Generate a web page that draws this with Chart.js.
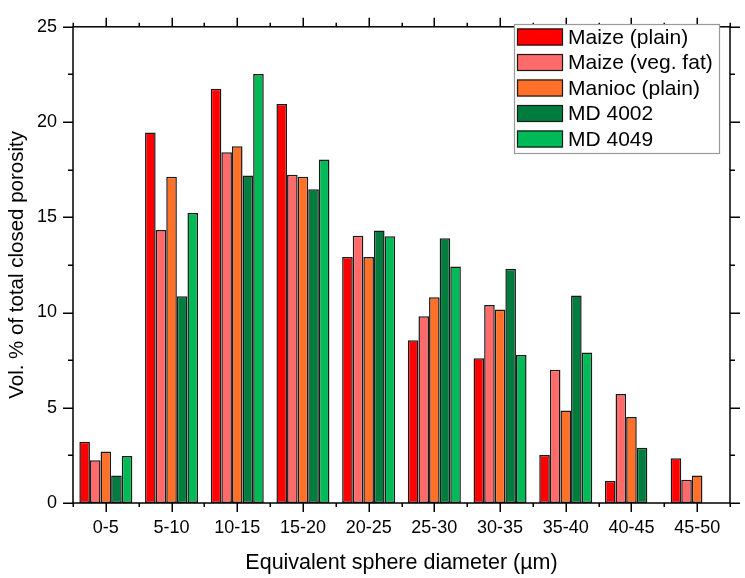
<!DOCTYPE html>
<html>
<head>
<meta charset="utf-8">
<script src="https://cdn.jsdelivr.net/npm/chart.js@4.4.1/dist/chart.umd.min.js"></script>
<style>
  html, body { margin: 0; padding: 0; background: #fff; }
  #wrap { width: 745px; height: 578px; }
</style>
</head>
<body>
<div id="wrap"><canvas id="poreChart" width="745" height="578"></canvas></div>
<script>
// size classes (µm)
let categories = ['0-5','5-10','10-15','15-20','20-25','25-30','30-35','35-40','40-45','45-50'];

let maizePlain  = [3.22, 19.45, 21.75, 20.95, 12.92, 8.55, 7.60, 2.52, 1.15, 2.35];
let maizeVegFat = [2.24, 14.33, 18.42, 17.23, 14.03, 9.80, 10.40, 7.00, 5.72, 1.22];
let manioc      = [2.70, 17.13, 18.73, 17.13, 12.92, 10.80, 10.16, 4.86, 4.52, 1.45];
let md4002      = [1.45, 10.85, 17.19, 16.47, 14.30, 13.90, 12.30, 10.90, 2.90, null];
let md4049      = [2.47, 15.22, 22.52, 18.03, 14.00, 12.42, 7.77, 7.90, null, null];

let yTicks = [0, 5, 10, 15, 20, 25];

const FONT = '"Liberation Sans", Arial, sans-serif';

// box frame with outward ticks on all four sides
const framePlugin = {
    id: 'frame',
    afterDraw(chart) {
        const ctx = chart.ctx;
        const a = chart.chartArea;
        const x = chart.scales.x;
        const y = chart.scales.y;
        ctx.save();
        ctx.strokeStyle = '#000';
        ctx.lineWidth = 1.5;
        ctx.strokeRect(a.left, a.top, a.right - a.left, a.bottom - a.top);
        ctx.beginPath();
        for (let v = 0; v <= 25.001; v += 2.5) {
            const py = Math.round(y.getPixelForValue(v)) + 0.25;
            const len = (v % 5 === 0) ? 10 : 5;
            ctx.moveTo(a.left, py); ctx.lineTo(a.left - len, py);
            ctx.moveTo(a.right, py); ctx.lineTo(a.right + len, py);
        }
        for (let i = 0; i < categories.length; i++) {
            const px = Math.round(x.getPixelForValue(i)) + 0.25;
            ctx.moveTo(px, a.bottom); ctx.lineTo(px, a.bottom + 9);
            ctx.moveTo(px, a.top); ctx.lineTo(px, a.top - 9);
        }
        const step = (a.right - a.left) / categories.length;
        for (let i = 0; i <= categories.length; i++) {
            const px = Math.round(a.left + i * step) + 0.25;
            ctx.moveTo(px, a.bottom); ctx.lineTo(px, a.bottom + 4);
            ctx.moveTo(px, a.top); ctx.lineTo(px, a.top - 4);
        }
        ctx.stroke();

        // legend box in the upper right corner
        const lx = 514, ly = 24, lw = 205, lh = 129;
        ctx.fillStyle = '#fff';
        ctx.fillRect(lx, ly, lw, lh);
        ctx.strokeStyle = '#9a9a9a';
        ctx.lineWidth = 1.2;
        ctx.strokeRect(lx + 0.5, ly + 0.5, lw, lh);
        ctx.font = '21px ' + FONT;
        ctx.textBaseline = 'middle';
        ctx.textAlign = 'left';
        chart.data.datasets.forEach((ds, i) => {
            const cy = 37 + i * 25.5;
            ctx.fillStyle = ds.backgroundColor;
            ctx.fillRect(517, cy - 8.5, 46, 17);
            ctx.strokeStyle = '#1a1a1a';
            ctx.lineWidth = 1.2;
            ctx.strokeRect(517.5, cy - 8, 45, 16);
            ctx.fillStyle = '#000';
            ctx.fillText(ds.label, 568, cy + 1);
        });
        ctx.restore();
    }
};

function makeSet(label, data, color) {
    return {
        label: label,
        data: data,
        backgroundColor: color,
        borderColor: '#1a1a1a',
        borderWidth: 1.5,
        borderSkipped: false,
        categoryPercentage: 0.807,
        barPercentage: 1.0
    };
}

const ctx = document.getElementById('poreChart').getContext('2d');

let poreChart = new Chart(ctx, {
    type: 'bar',
    data: {
        labels: categories,
        datasets: [
            makeSet('Maize (plain)', maizePlain, '#ff0000'),
            makeSet('Maize (veg. fat)', maizeVegFat, '#ff6a6a'),
            makeSet('Manioc (plain)', manioc, '#ff7028'),
            makeSet('MD 4002', md4002, '#007d3e'),
            makeSet('MD 4049', md4049, '#00ba58')
        ]
    },
    options: {
        responsive: false,
        animation: false,
        layout: { padding: { left: 0, top: 16, right: 15, bottom: 0 } },
        plugins: {
            legend: { display: false },
            tooltip: { enabled: false }
        },
        scales: {
            x: {
                grid: { display: false, drawTicks: false },
                border: { display: false },
                ticks: { color: '#000', font: { family: FONT, size: 18 }, padding: 14, maxRotation: 0 },
                title: {
                    display: true,
                    text: 'Equivalent sphere diameter (\u00b5m)',
                    color: '#000',
                    font: { family: FONT, size: 21.5 },
                    padding: { top: 0, bottom: 2 }
                },
                afterFit(scale) { scale.height = 75; }
            },
            y: {
                min: 0,
                max: 25,
                grid: { display: false, drawTicks: false },
                border: { display: false },
                afterBuildTicks(scale) { scale.ticks = yTicks.map(v => ({ value: v })); },
                ticks: { color: '#000', font: { family: FONT, size: 18 }, padding: 16 },
                title: {
                    display: true,
                    text: 'Vol. % of total closed porosity',
                    color: '#000',
                    font: { family: FONT, size: 20.5 },
                    padding: { top: 5, bottom: 0 }
                },
                afterFit(scale) { scale.width = 73; }
            }
        }
    },
    plugins: [framePlugin]
});
</script>
</body>
</html>
